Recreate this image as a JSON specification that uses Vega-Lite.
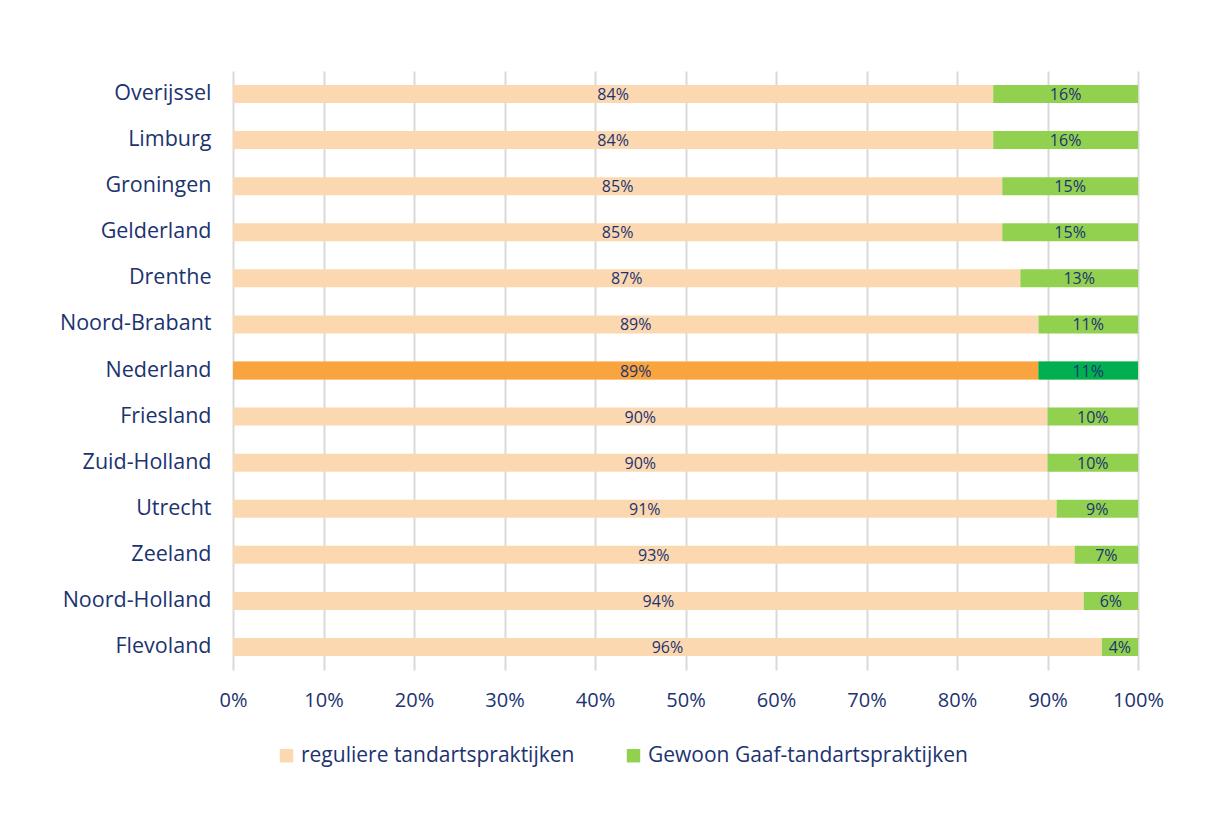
{
  "$schema": "https://vega.github.io/schema/vega-lite/v6.json",
  "width": 905,
  "height": 599,
  "autosize": {"type": "none"},
  "padding": {"left": 233, "top": 71, "right": 92, "bottom": 152},
  "background": "white",
  "config": {
    "font": "Open Sans",
    "view": {"stroke": null},
    "axis": {"labelFont": "Open Sans", "labelColor": "#1C3370"},
    "legend": {"labelFont": "Open Sans", "labelColor": "#1C3370"}
  },
  "data": {
    "values": [
      {"provincie": "Overijssel", "type": "reguliere tandartspraktijken", "waarde": 0.84},
      {"provincie": "Overijssel", "type": "Gewoon Gaaf-tandartspraktijken", "waarde": 0.16},
      {"provincie": "Limburg", "type": "reguliere tandartspraktijken", "waarde": 0.84},
      {"provincie": "Limburg", "type": "Gewoon Gaaf-tandartspraktijken", "waarde": 0.16},
      {"provincie": "Groningen", "type": "reguliere tandartspraktijken", "waarde": 0.85},
      {"provincie": "Groningen", "type": "Gewoon Gaaf-tandartspraktijken", "waarde": 0.15},
      {"provincie": "Gelderland", "type": "reguliere tandartspraktijken", "waarde": 0.85},
      {"provincie": "Gelderland", "type": "Gewoon Gaaf-tandartspraktijken", "waarde": 0.15},
      {"provincie": "Drenthe", "type": "reguliere tandartspraktijken", "waarde": 0.87},
      {"provincie": "Drenthe", "type": "Gewoon Gaaf-tandartspraktijken", "waarde": 0.13},
      {"provincie": "Noord-Brabant", "type": "reguliere tandartspraktijken", "waarde": 0.89},
      {"provincie": "Noord-Brabant", "type": "Gewoon Gaaf-tandartspraktijken", "waarde": 0.11},
      {"provincie": "Nederland", "type": "reguliere tandartspraktijken", "waarde": 0.89},
      {"provincie": "Nederland", "type": "Gewoon Gaaf-tandartspraktijken", "waarde": 0.11},
      {"provincie": "Friesland", "type": "reguliere tandartspraktijken", "waarde": 0.90},
      {"provincie": "Friesland", "type": "Gewoon Gaaf-tandartspraktijken", "waarde": 0.10},
      {"provincie": "Zuid-Holland", "type": "reguliere tandartspraktijken", "waarde": 0.90},
      {"provincie": "Zuid-Holland", "type": "Gewoon Gaaf-tandartspraktijken", "waarde": 0.10},
      {"provincie": "Utrecht", "type": "reguliere tandartspraktijken", "waarde": 0.91},
      {"provincie": "Utrecht", "type": "Gewoon Gaaf-tandartspraktijken", "waarde": 0.09},
      {"provincie": "Zeeland", "type": "reguliere tandartspraktijken", "waarde": 0.93},
      {"provincie": "Zeeland", "type": "Gewoon Gaaf-tandartspraktijken", "waarde": 0.07},
      {"provincie": "Noord-Holland", "type": "reguliere tandartspraktijken", "waarde": 0.94},
      {"provincie": "Noord-Holland", "type": "Gewoon Gaaf-tandartspraktijken", "waarde": 0.06},
      {"provincie": "Flevoland", "type": "reguliere tandartspraktijken", "waarde": 0.96},
      {"provincie": "Flevoland", "type": "Gewoon Gaaf-tandartspraktijken", "waarde": 0.04}
    ]
  },
  "transform": [
    {"stack": "waarde", "groupby": ["provincie"], "sort": [{"field": "type", "order": "descending"}], "as": ["x0", "x1"]}
  ],
  "encoding": {
    "y": {
      "field": "provincie",
      "type": "nominal",
      "sort": ["Overijssel", "Limburg", "Groningen", "Gelderland", "Drenthe", "Noord-Brabant", "Nederland", "Friesland", "Zuid-Holland", "Utrecht", "Zeeland", "Noord-Holland", "Flevoland"],
      "title": null,
      "axis": {"ticks": false, "domain": false, "labelFontSize": 21.5, "labelPadding": 22, "grid": false}
    }
  },
  "layer": [
    {
      "mark": {"type": "bar", "height": 18},
      "encoding": {
        "x": {
          "field": "x0",
          "type": "quantitative",
          "scale": {"domain": [0, 1], "nice": false},
          "title": null,
          "axis": {
            "format": ".0%",
            "values": [0, 0.1, 0.2, 0.3, 0.4, 0.5, 0.6, 0.7, 0.8, 0.9, 1],
            "grid": true,
            "gridColor": "#D9D9D9",
            "gridWidth": 2,
            "ticks": false,
            "domain": false,
            "labelFlush": false,
            "labelFontSize": 20,
            "labelPadding": 20
          }
        },
        "x2": {"field": "x1"},
        "color": {
          "field": "type",
          "type": "nominal",
          "scale": {"domain": ["reguliere tandartspraktijken", "Gewoon Gaaf-tandartspraktijken"], "range": ["#FCD8B0", "#92D050"]},
          "legend": {
            "title": null,
            "orient": "none",
            "direction": "horizontal",
            "legendX": 43,
            "legendY": 674,
            "symbolType": "square",
            "symbolSize": 180,
            "symbolStrokeWidth": 0,
            "labelFontSize": 21,
            "labelOffset": 4,
            "columnPadding": 48,
            "labelLimit": 400
          }
        }
      }
    },
    {
      "transform": [{"filter": "datum.provincie === 'Nederland'"}],
      "mark": {"type": "bar", "height": 18},
      "encoding": {
        "x": {"field": "x0", "type": "quantitative"},
        "x2": {"field": "x1"},
        "color": {"condition": {"test": "datum.type === 'reguliere tandartspraktijken'", "value": "#F9A43E"}, "value": "#00B050"}
      }
    },
    {
      "transform": [
        {"fold": ["x0", "x1"], "as": ["grens", "pos"]},
        {"aggregate": [{"op": "mean", "field": "pos", "as": "mid"}], "groupby": ["provincie", "type", "waarde"]}
      ],
      "mark": {"type": "text", "fontSize": 16, "color": "#1C3370", "baseline": "middle", "dy": 1},
      "encoding": {
        "x": {"field": "mid", "type": "quantitative"},
        "text": {"field": "waarde", "type": "quantitative", "format": ".0%"}
      }
    }
  ]
}
